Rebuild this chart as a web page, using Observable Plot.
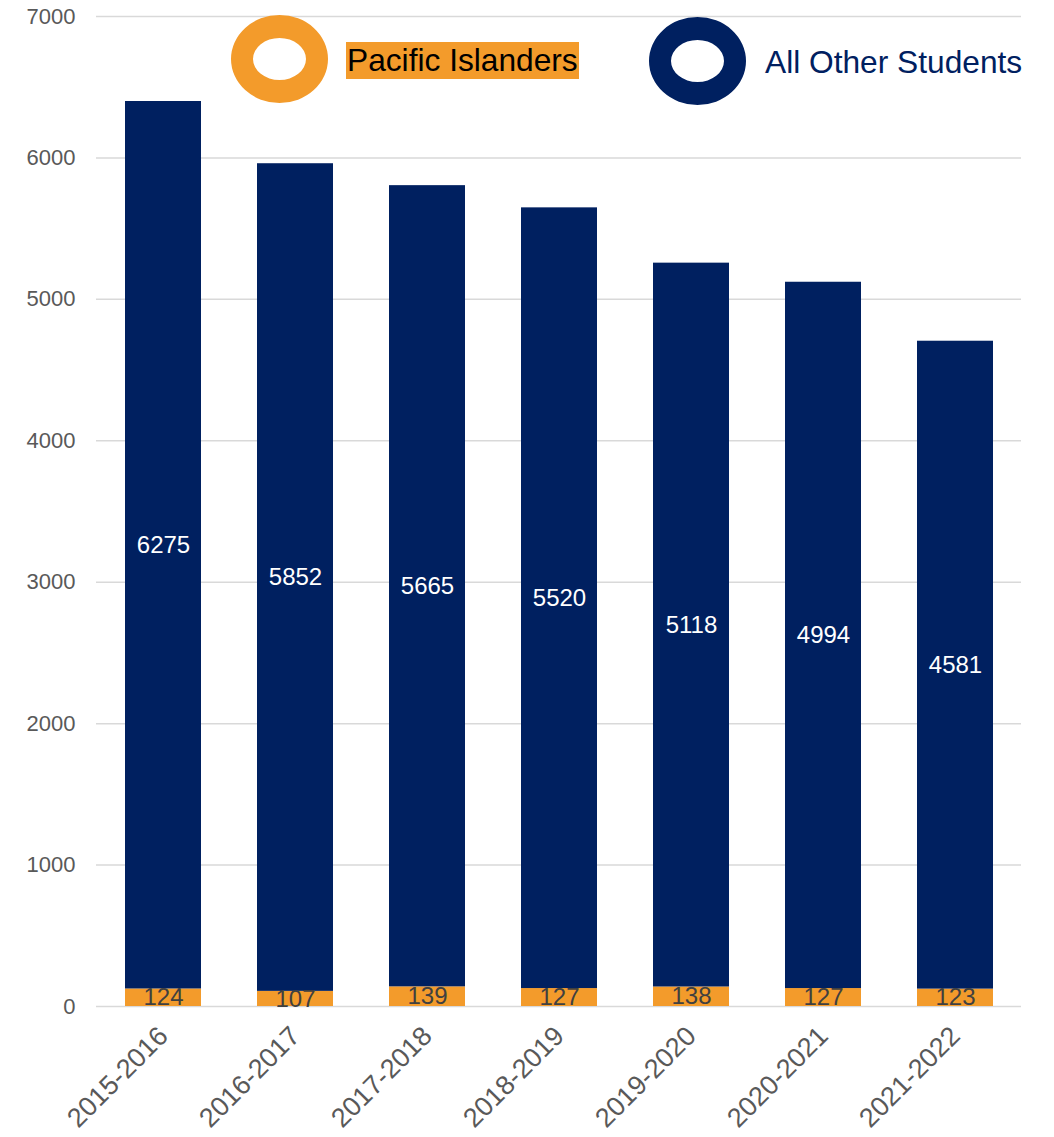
<!DOCTYPE html>
<html>
<head>
<meta charset="utf-8">
<script src="https://cdn.jsdelivr.net/npm/d3@7"></script>
<script src="https://cdn.jsdelivr.net/npm/@observablehq/plot@0.6"></script>
<style>
  body { margin: 0; background: #fff; font-family: "Liberation Sans", Arial, sans-serif; }
  #wrap { position: relative; width: 1054px; height: 1137px; }
  #wrap svg { display: block; }
  .ring { position: absolute; box-sizing: border-box; width: 97px; height: 88px; border-radius: 50%; border-style: solid; border-width: 23px 22px; background: #fff; }
  .ltext { position: absolute; font-size: 31.7px; line-height: 37px; white-space: nowrap; }
</style>
</head>
<body>
<div id="wrap"></div>
<script>
const years = ["2015-2016", "2016-2017", "2017-2018", "2018-2019", "2019-2020", "2020-2021", "2021-2022"];
const pacific = [124, 107, 139, 127, 138, 127, 123];
const other = [6275, 5852, 5665, 5520, 5118, 4994, 4581];
const seriesNames = ["Pacific Islanders", "All Other Students"];
const seriesColors = ["#F39B2B", "#002060"];
const yTicks = [0, 1000, 2000, 3000, 4000, 5000, 6000, 7000];

const data = [];
years.forEach((y, i) => {
  data.push({year: y, series: seriesNames[0], value: pacific[i]});
  data.push({year: y, series: seriesNames[1], value: other[i]});
});

const chart = Plot.plot({
  width: 1054,
  height: 1137,
  marginLeft: 96,
  marginRight: 33,
  marginTop: 16,
  marginBottom: 131,
  style: {fontFamily: "'Liberation Sans', Arial, sans-serif", background: "#fff"},
  x: {domain: years, paddingInner: 0.425, paddingOuter: 0.2125, label: null},
  y: {domain: [0, 7000], label: null},
  color: {domain: seriesNames, range: seriesColors},
  marks: [
    Plot.gridY(yTicks, {stroke: "#d9d9d9", strokeOpacity: 1, strokeWidth: 1.5}),
    Plot.axisY(yTicks, {tickSize: 0, tickPadding: 21, fontSize: 22, fill: "#595959", label: null, tickFormat: d => String(d)}),
    Plot.barY(data, {x: "year", y: "value", fill: "series", z: "series", order: seriesNames}),
    Plot.text(data, Plot.stackY({
      x: "year", y: "value", z: "series", order: seriesNames,
      text: d => String(d.value),
      fill: d => d.series === seriesNames[1] ? "#ffffff" : "#404040",
      fontSize: 24
    })),
    Plot.axisX({tickSize: 0, tickRotate: -45, tickPadding: 25, fontSize: 27, fill: "#595959", label: null})
  ]
});

const wrap = document.getElementById("wrap");
wrap.appendChild(chart);

// Legend overlay
function addRing(left, top, color) {
  const r = document.createElement("div");
  r.className = "ring";
  r.style.left = left + "px";
  r.style.top = top + "px";
  r.style.borderColor = color;
  wrap.appendChild(r);
}
function addText(left, top, text, color, bg) {
  const t = document.createElement("div");
  t.className = "ltext";
  t.style.left = left + "px";
  t.style.top = top + "px";
  t.style.color = color;
  if (bg) { t.style.background = bg; t.style.padding = "0 1px"; }
  t.textContent = text;
  wrap.appendChild(t);
}
addRing(231, 15, seriesColors[0]);
addText(346, 42, seriesNames[0], "#000000", seriesColors[0]);
addRing(649, 17, seriesColors[1]);
addText(765, 44, seriesNames[1], seriesColors[1], null);
</script>
</body>
</html>
